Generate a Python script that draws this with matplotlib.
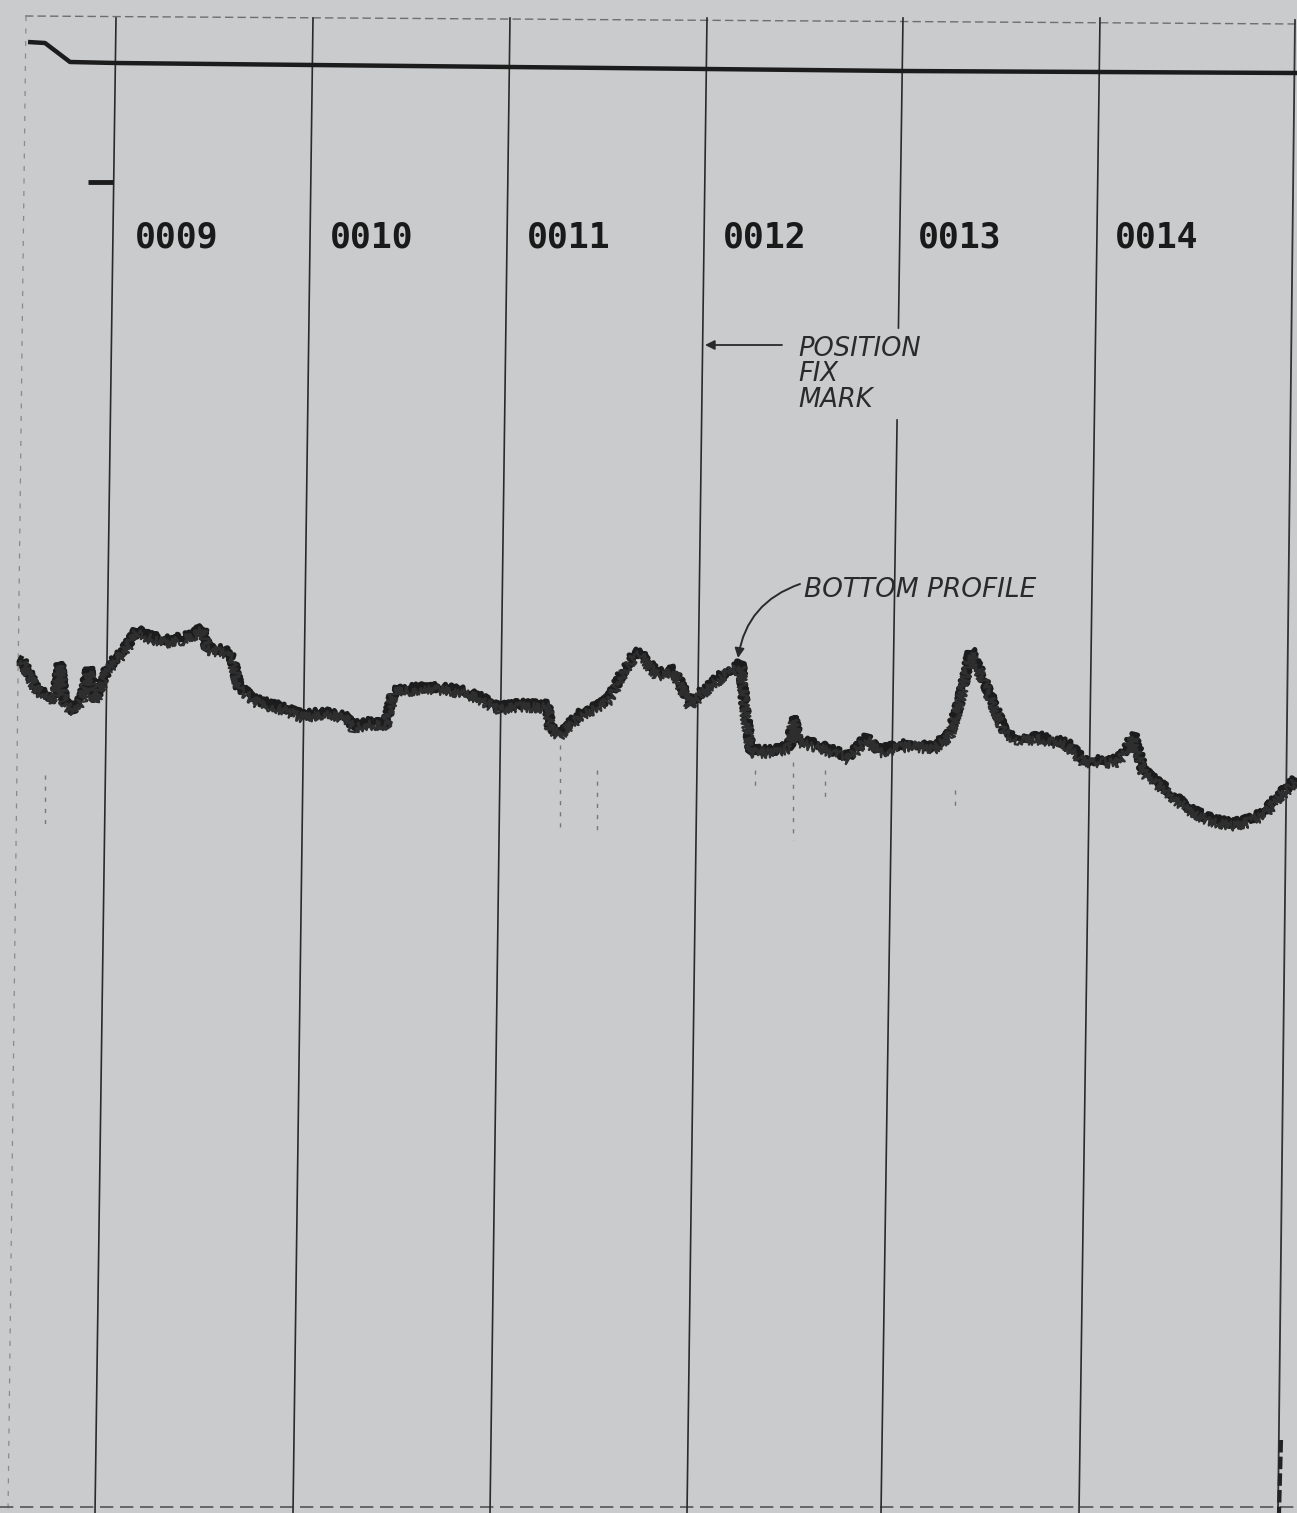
import numpy as np
import matplotlib
matplotlib.use('Agg')
import matplotlib.pyplot as plt

# echo sounder record, units = record pixels (x along track, y depth down)
W, H = 1297, 1513

fix_labels = ['0009', '0010', '0011', '0012', '0013', '0014']
fix_top_x = [116, 313, 510, 707, 903, 1100]
fix_bot_x = [95, 293, 490, 687, 881, 1079]
label_x = [135, 330, 527, 723, 918, 1115]
label_y = 237

# transmission (zero) line along the top
surf_x = [28, 45, 70, 116, 313, 510, 707, 903, 1100, 1297]
surf_y = [42, 43, 62, 63, 65, 67, 69, 71, 72, 73]

# bottom profile trace
prof_x = [21, 35, 50, 56, 60, 64, 73, 82, 89, 95, 108, 124, 137, 150, 166, 185,
          203, 207, 224, 232, 239, 257, 282, 303, 320, 344, 353, 370, 386, 394,
          410, 440, 460, 477, 498, 520, 548, 550, 560, 581, 600, 610, 622, 635,
          640, 657, 674, 690, 707, 724, 741, 745, 751, 774, 790, 793, 799, 820,
          849, 866, 879, 900, 912, 933, 950, 960, 971, 988, 1004, 1017, 1042,
          1067, 1084, 1100, 1118, 1134, 1143, 1164, 1185, 1206, 1230, 1247,
          1265, 1277, 1297]
prof_y = [658, 685, 700, 690, 663, 700, 710, 698, 668, 700, 667, 650, 630, 636, 640, 637,
          628, 647, 650, 657, 687, 700, 707, 715, 712, 715, 725, 722, 723, 690,
          688, 687, 690, 695, 707, 704, 705, 727, 733, 713, 705, 697, 673, 653,
          653, 673, 670, 703, 687, 673, 663, 710, 750, 750, 745, 717, 740, 745,
          757, 737, 750, 745, 743, 747, 733, 700, 650, 690, 730, 737, 737,
          743, 760, 760, 760, 735, 770, 787, 805, 817, 823, 820,
          812, 797, 778]

# faint trailing echo ticks below the trace
tick_x = [45, 560, 597, 755, 793, 825, 955]
tick_y0 = [775, 745, 770, 770, 762, 770, 790]
tick_y1 = [830, 830, 835, 790, 840, 800, 810]

bg = '#c9cbcc'
ink = '#1c1c1c'

fig = plt.figure(figsize=(W / 100, H / 100), dpi=100)
fig.patch.set_facecolor(bg)
ax = fig.add_axes([0, 0, 1, 1])
ax.set_facecolor(bg)
ax.set_xlim(0, W)
ax.set_ylim(H, 0)
ax.axis('off')

# paper border (top and left are faint, bottom darker)
ax.plot([25, W], [16, 24], color='#6e6e6e', lw=1.0, ls=(0, (6, 3)))
ax.plot([26, 8], [16, H], color='#8a8a8a', lw=0.9, ls=(0, (4, 6)))
ax.plot([0, W], [H - 6, H - 6], color='#555555', lw=1.2, ls=(0, (8, 4)))
ax.plot([1295, 1278], [20, H], color='#333333', lw=1.3)
ax.plot([1281, 1279], [1440, H], color='#222222', lw=3.0, ls=(0, (3, 1)))

# fix lines
for lab, xt, xb, lx in zip(fix_labels, fix_top_x, fix_bot_x, label_x):
    if lab == '0013':
        # line broken where the note sits
        for y0, y1 in [(18, 328), (420, H)]:
            xa = xt + (xb - xt) * (y0 - 18) / (H - 18)
            xc = xt + (xb - xt) * (y1 - 18) / (H - 18)
            ax.plot([xa, xc], [y0, y1], color='#2a2a2a', lw=1.2)
    else:
        ax.plot([xt, xb], [18, H], color='#2a2a2a', lw=1.2)
    ax.text(lx, label_y, lab, fontsize=25, fontweight='heavy', family='DejaVu Sans Mono',
            color='#1a1a1a', va='center', ha='left')

# short mark at left
ax.plot([88, 113], [182, 182], color=ink, lw=3.5, solid_capstyle='butt')

# surface line
ax.plot(surf_x, surf_y, color=ink, lw=3.2, solid_capstyle='butt')

# bottom profile
ln, = ax.plot(prof_x, prof_y, color=ink, lw=3.6, solid_joinstyle='round')
ln.set_sketch_params(scale=4, length=3, randomness=6)
ln2, = ax.plot(prof_x, [v + 3 for v in prof_y], color='#2e2e2e', lw=1.6)
ln2.set_sketch_params(scale=5, length=2, randomness=5)

for tx, t0, t1 in zip(tick_x, tick_y0, tick_y1):
    ax.plot([tx, tx], [t0, t1], color='#555555', lw=1.0, ls=(0, (3, 5)), alpha=0.7)

# annotations
ax.annotate('', xy=(705, 345), xytext=(782, 345),
            arrowprops=dict(arrowstyle='-|>', color='#2a2a2a', lw=1.3,
                            mutation_scale=14, shrinkA=0, shrinkB=0))
note_kw = dict(fontsize=18.5, style='italic', color='#2a2a2a', ha='left', va='center')
ax.text(798, 349, 'POSITION', **note_kw)
ax.text(798, 374, 'FIX', **note_kw)
ax.text(798, 400, 'MARK', **note_kw)

ax.text(804, 590, 'BOTTOM PROFILE', fontsize=19, color='#2a2a2a', ha='left',
        va='center', style='italic')
ax.annotate('', xy=(738, 658), xytext=(800, 584),
            arrowprops=dict(arrowstyle='-|>', color='#2a2a2a', lw=1.4,
                            mutation_scale=14, shrinkA=0, shrinkB=0,
                            connectionstyle='arc3,rad=0.3'))

fig.savefig('out.png', dpi=100, facecolor=bg)
